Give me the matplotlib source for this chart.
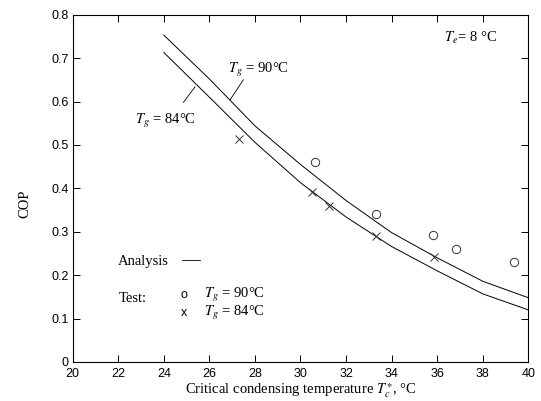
import matplotlib
matplotlib.use('Agg')
import matplotlib.pyplot as plt

plt.rcParams['mathtext.fontset'] = 'stix'
serif = 'Liberation Serif'
sans = 'Liberation Sans'

# analysis curves
tc_line = [24, 26, 28, 30, 32, 34, 36, 38, 40]
cop_90 = [0.753, 0.652, 0.544, 0.455, 0.372, 0.298, 0.240, 0.186, 0.148]
cop_84 = [0.713, 0.610, 0.506, 0.413, 0.334, 0.266, 0.210, 0.157, 0.120]

# test points
tc_test_90 = [30.65, 33.31, 35.80, 36.81, 39.39]
cop_test_90 = [0.461, 0.340, 0.292, 0.260, 0.230]
tc_test_84 = [27.29, 30.52, 31.25, 33.30, 35.86]
cop_test_84 = [0.513, 0.392, 0.359, 0.290, 0.243]

xticks = list(range(20, 41, 2))
yticks = [0, 0.1, 0.2, 0.3, 0.4, 0.5, 0.6, 0.7, 0.8]
ytick_labels = ['0', '0.1', '0.2', '0.3', '0.4', '0.5', '0.6', '0.7', '0.8']

fig = plt.figure(figsize=(5.41, 4.01), dpi=100)
ax = fig.add_axes([0.1344, 0.0973, 0.8421, 0.866])

ax.plot(tc_line, cop_90, color='black', lw=0.7)
ax.plot(tc_line, cop_84, color='black', lw=0.7)
ax.plot(tc_test_90, cop_test_90, 'o', mfc='none', mec='#333333', ms=6, mew=0.7)
ax.plot(tc_test_84, cop_test_84, 'x', color='#333333', ms=6, mew=0.7)

ax.set_xlim(20, 40)
ax.set_ylim(0, 0.8)
ax.set_xticks(xticks)
ax.set_yticks(yticks)
ax.set_yticklabels(ytick_labels)
ax.tick_params(direction='in', length=5, width=0.7, top=True, right=True,
               labelsize=9, pad=3)
ax.tick_params(axis='x', pad=4)
for lab in ax.get_xticklabels() + ax.get_yticklabels():
    lab.set_fontfamily(sans)
for s in ax.spines.values():
    s.set_linewidth(0.8)

ax.set_xlabel('Critical condensing temperature $T_c^{\\ast}$, \u00b0C',
              fontfamily=serif, fontsize=10.5, labelpad=1)
ax.set_ylabel('COP', fontfamily=serif, fontsize=10.5)
ax.yaxis.set_label_coords(-0.09, 0.455)

# curve labels with leader lines
ax.text(28.14, 0.673, '$T_g$ = 90\u00b0C', fontfamily=serif, fontsize=10.5,
        ha='center', va='center')
ax.plot([27.49, 26.91], [0.650, 0.604], color='black', lw=0.6)
ax.text(24.07, 0.556, '$T_g$ = 84\u00b0C', fontfamily=serif, fontsize=10.5,
        ha='center', va='center')
ax.plot([25.37, 24.86], [0.634, 0.598], color='black', lw=0.6)

ax.text(37.45, 0.746, '$T_e$= 8 \u00b0C', fontfamily=serif, fontsize=10.5,
        ha='center', va='center')

# legend block
ax.text(22.0, 0.231, 'Analysis', fontfamily=serif, fontsize=10.5, va='center')
ax.plot([24.8, 25.6], [0.235, 0.235], color='black', lw=0.6)
ax.text(22.0, 0.146, 'Test:', fontfamily=serif, fontsize=10.5, va='center')
ax.text(24.9, 0.155, 'o', fontfamily=sans, fontsize=9, va='center', ha='center')
ax.text(25.75, 0.155, '$T_g$ = 90\u00b0C', fontfamily=serif, fontsize=10.5, va='center')
ax.text(24.9, 0.112, 'x', fontfamily=sans, fontsize=9, va='center', ha='center')
ax.text(25.75, 0.112, '$T_g$ = 84\u00b0C', fontfamily=serif, fontsize=10.5, va='center')

fig.savefig('out.png', dpi=100)
